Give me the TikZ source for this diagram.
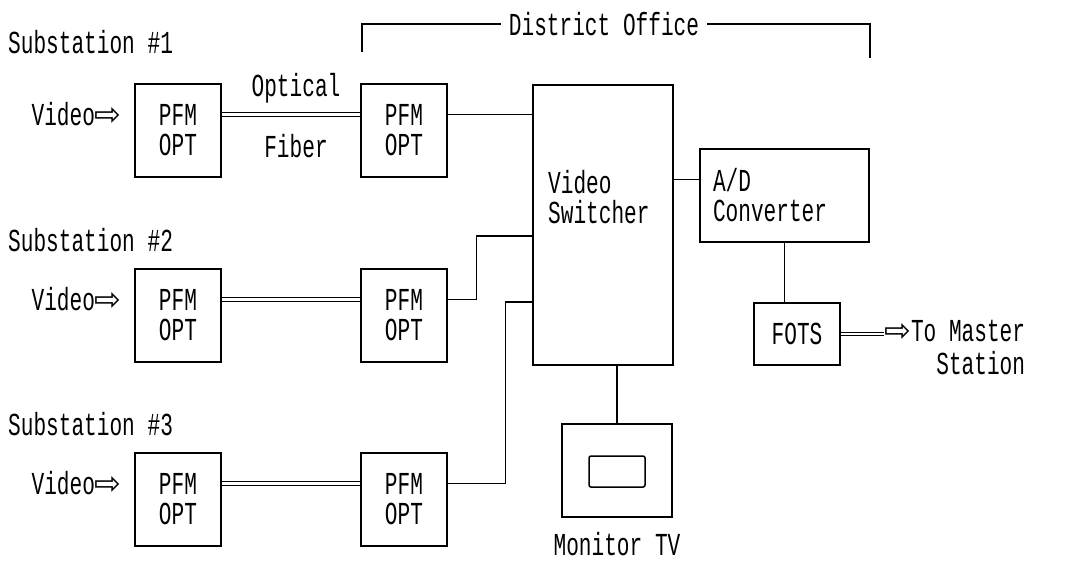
\documentclass[tikz,border=0pt]{standalone}
\usepackage{fontspec}
\newfontfamily\plainfont[FakeStretch=0.66]{Liberation Mono}
\newfontfamily\arrowfont{DejaVu Sans}
\usetikzlibrary{positioning}
\newcommand{\harrow}{{\arrowfont\fontsize{32}{30}\selectfont ⇨}}
\tikzset{
  plaintext/.style={font=\plainfont\fontsize{32}{30}\selectfont,inner sep=0pt},
  blockbox/.style={draw,line width=1.5pt,plaintext,align=center},
  pfmbox/.style={blockbox,minimum width=86pt,minimum height=93pt},
  wire/.style={line width=1.4pt},
  fiber/.style={double,double distance=2.6pt,line width=1pt}}
% one substation: #1 name, #2 top of boxes, #3 number, #4 y of title
\newcommand{\stationrow}[4]{%
  \node[plaintext,anchor=west] (#1-title) at (8,#4) {Substation \##3};
  \node[pfmbox] (#1-l) at (178,{#2+46.5}) {PFM\\OPT};
  \node[pfmbox] (#1-r) at (404,{#2+46.5}) {PFM\\OPT};
  \node[plaintext,anchor=east] (#1-video) at (122,{#2+30}) {Video\harrow};
  \draw[fiber] ([yshift=-31pt]#1-l.north east) -- ([yshift=-31pt]#1-r.north west);}

\begin{document}
\begin{tikzpicture}[x=1pt,y=-1pt]
\useasboundingbox (0,0) rectangle (1070,562);

\stationrow{sa}{84}{1}{42}
\stationrow{sb}{269}{2}{240}
\stationrow{sc}{453}{3}{424}

\node[plaintext] (optical) at (296,88) {Optical};
\node[plaintext] (fiber) at (296,146) {Fiber};

% district office
\node[plaintext,inner sep=8pt] (office) at (604,24) {District Office};
\draw[wire] (office.west) -- (362,24) -- (362,52);
\draw[wire] (office.east) -- (870,24) -- (870,58);

\node[blockbox,minimum width=140pt,minimum height=280pt] (switcher) at (603,225) {};
\node[plaintext,anchor=west,align=left] (switchtext) at (548,197) {Video\\Switcher};
\node[blockbox,minimum width=169pt,minimum height=93pt,text width=143pt,align=left]
  (adconv) at (784.5,195.5) {A/D\\Converter};
\node[blockbox,minimum width=86pt,minimum height=62pt] (fots) at (797,334) {FOTS};
\node[blockbox,minimum width=110pt,minimum height=93pt] (monitor) at (617,470.5) {};
\node[draw,line width=1.5pt,rounded corners=2pt,minimum width=56pt,minimum height=31pt]
  (screen) at (617,471.5) {};
\node[plaintext,below=14pt of monitor] (monitortext) {Monitor TV};

\draw[wire] ([yshift=-31pt]sa-r.north east) -- ([yshift=-31pt]sa-r.north east -| switcher.west);
\draw[wire] ([yshift=-31pt]sb-r.north east) -- ++(29,0) |- (switcher.west |- 0,236);
\draw[wire] ([yshift=-31pt]sc-r.north east) -- ++(58,0) |- (switcher.west |- 0,302);
\draw[wire] ([yshift=16pt]adconv.west) -- ([yshift=16pt]adconv.west -| switcher.east);
\draw[wire] (adconv.south) -- (adconv.south |- fots.north);
\draw[wire] (monitor.north |- switcher.south) -- (monitor.north);

\node[plaintext,anchor=north west,align=right] (master) at (884,320) {\harrow To Master\\[3pt]Station};
\draw[fiber] (fots.east) -- (fots.east -| master.west);
\end{tikzpicture}
\end{document}
